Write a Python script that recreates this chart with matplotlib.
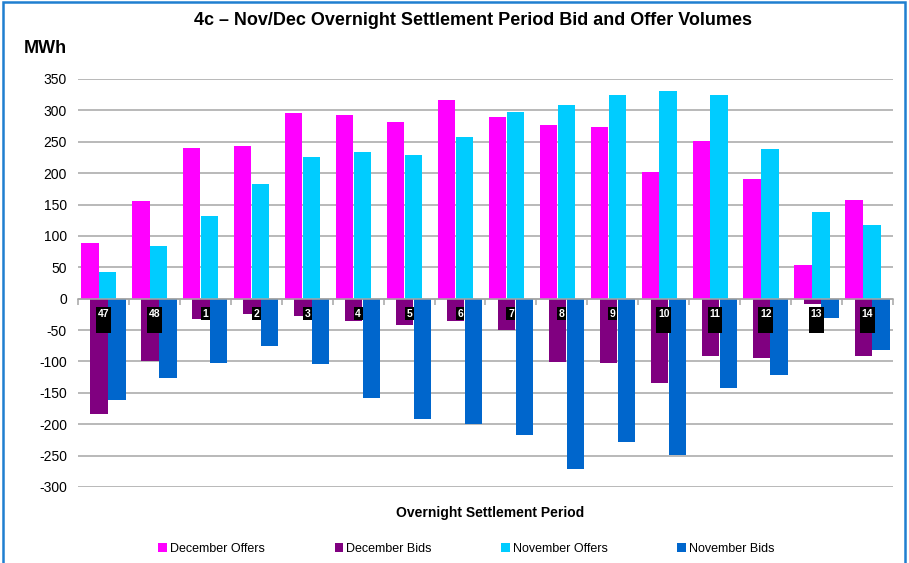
import matplotlib.pyplot as plt
import matplotlib.patches as mpatches
import numpy as np

# Overnight settlement periods
periods = ['47', '48', '1', '2', '3', '4', '5', '6', '7', '8', '9', '10', '11', '12', '13', '14']

dec_offers = [88, 155, 240, 244, 296, 292, 281, 316, 289, 276, 273, 202, 252, 190, 53, 158]
dec_bids = [-183, -100, -32, -24, -27, -36, -42, -36, -50, -101, -103, -135, -91, -94, -9, -92]
nov_offers = [43, 84, 131, 183, 226, 234, 229, 258, 298, 309, 325, 331, 325, 239, 138, 118]
nov_bids = [-162, -127, -102, -75, -104, -159, -191, -199, -217, -272, -228, -249, -143, -121, -30, -81]

c_dec_off = '#ff00ff'
c_dec_bid = '#800080'
c_nov_off = '#00ccff'
c_nov_bid = '#0066cc'

plt.rcParams['font.family'] = ['Liberation Sans', 'DejaVu Sans']
plt.rcParams['axes.unicode_minus'] = False

fig = plt.figure(figsize=(9.09, 5.63), dpi=100)
ax = fig.add_axes([0.0858, 0.135, 0.8966, 0.7247])

x = np.arange(len(periods))
w = 0.34
off_c = x - 0.09
bid_c = x + 0.09

ax.bar(off_c - 0.175, dec_offers, w, color=c_dec_off, label='December Offers', zorder=3)
ax.bar(bid_c - 0.175, dec_bids, w, color=c_dec_bid, label='December Bids', zorder=3)
ax.bar(off_c + 0.175, nov_offers, w, color=c_nov_off, label='November Offers', zorder=3)
ax.bar(bid_c + 0.175, nov_bids, w, color=c_nov_bid, label='November Bids', zorder=3)

# period labels in black boxes
for xi, lab in zip(x, periods):
    txt = lab + '\n ' if len(lab) > 1 else lab
    ax.text(xi, -16, txt, ha='center', va='top', color='white', fontsize=7.5,
            fontweight='bold', linespacing=1.3, zorder=5,
            bbox=dict(boxstyle='square,pad=0.15', fc='black', ec='none'))

ax.set_xlim(-0.5, len(periods) - 0.5)
ax.set_ylim(-300, 350)
ax.set_yticks(np.arange(-300, 351, 50))
ax.tick_params(axis='y', length=0, pad=8, labelsize=10)
ax.yaxis.grid(True, color='#a6a6a6', linewidth=1.1, zorder=0)
ax.set_axisbelow(True)

for s in ['top', 'right', 'left']:
    ax.spines[s].set_visible(False)
ax.spines['bottom'].set_position(('data', 0))
ax.spines['bottom'].set_color('#a6a6a6')
ax.spines['bottom'].set_linewidth(1.1)
ax.spines['bottom'].set_zorder(4)
ax.set_xticks(np.arange(-0.5, len(periods), 1.0))
ax.set_xticklabels([])
ax.tick_params(axis='x', direction='out', length=4, color='#a6a6a6', width=1.1)

fig.text(0.52, 0.963, '4c \u2013 Nov/Dec Overnight Settlement Period Bid and Offer Volumes',
         ha='center', va='center', fontsize=13, fontweight='bold')
fig.text(0.026, 0.914, 'MWh', ha='left', va='center', fontsize=13, fontweight='bold')
fig.text(0.539, 0.089, 'Overnight Settlement Period', ha='center', va='center',
         fontsize=10, fontweight='bold')

fig.legend(loc='center', bbox_to_anchor=(0.513, 0.025), ncol=4, frameon=False,
           fontsize=9, handlelength=0.7, handleheight=0.7, handletextpad=0.2,
           columnspacing=5.6)

# blue outer border
fig.patches.append(mpatches.Rectangle((0.003, -0.05), 0.993, 1.046,
                                      transform=fig.transFigure, fill=False,
                                      ec='#1f7fd0', lw=1.8))

fig.savefig('out.png', dpi=100)
